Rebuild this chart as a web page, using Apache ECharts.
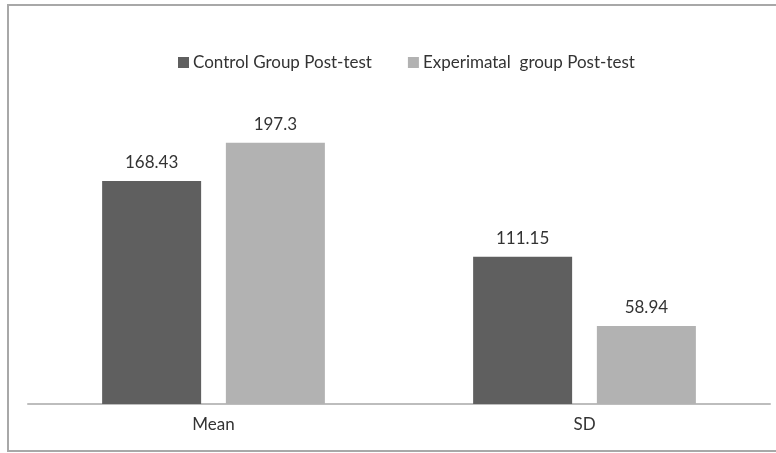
<!DOCTYPE html>
<html>
<head>
<meta charset="utf-8">
<script src="https://cdn.jsdelivr.net/npm/echarts@6/dist/echarts.min.js"></script>
<style>
  html, body { margin: 0; padding: 0; background: #fff; }
  #chart { width: 776px; height: 453px; }
</style>
</head>
<body>
<div id="chart"></div>
<script>
// categories and series
var categories = ['Mean', 'SD'];
var seriesNames = ['Control Group Post-test', 'Experimatal  group Post-test'];
var controlValues = [168.43, 111.15];
var experimentalValues = [197.3, 58.94];

var fontFam = 'Lato, "Liberation Sans", sans-serif';

var chart = echarts.init(document.getElementById('chart'));
chart.setOption({
    backgroundColor: '#fff',
    animation: false,
    graphic: [{
        type: 'rect',
        shape: { x: 8, y: 5, width: 800, height: 446 },
        style: { fill: 'none', stroke: '#a8a8a8', lineWidth: 2 },
        silent: true
    }],
    legend: {
        top: 49,
        left: 173,
        itemWidth: 11,
        itemHeight: 11,
        itemGap: 36,
        icon: 'rect',
        textStyle: { color: '#333', fontSize: 17, fontFamily: fontFam, padding: [0, 0, 0, -1] },
        data: seriesNames
    },
    grid: { left: 28, right: 6, top: 73, bottom: 49 },
    xAxis: {
        type: 'category',
        data: categories,
        axisTick: { show: false },
        axisLine: { lineStyle: { color: '#bdbdbd', width: 2 } },
        axisLabel: { color: '#333', fontSize: 17, fontFamily: fontFam, margin: 12 }
    },
    yAxis: {
        type: 'value',
        min: 0,
        max: 250,
        show: false,
        splitLine: { show: false }
    },
    series: [{
        name: seriesNames[0],
        type: 'bar',
        data: controlValues,
        barWidth: 99,
        barGap: '25%',
        itemStyle: { color: '#5f5f5f' },
        label: { show: true, position: 'top', distance: 10, color: '#333', fontSize: 17, fontFamily: fontFam }
    }, {
        name: seriesNames[1],
        type: 'bar',
        data: experimentalValues,
        barWidth: 99,
        barGap: '25%',
        itemStyle: { color: '#b2b2b2' },
        label: { show: true, position: 'top', distance: 10, color: '#333', fontSize: 17, fontFamily: fontFam }
    }]
});
</script>
</body>
</html>
